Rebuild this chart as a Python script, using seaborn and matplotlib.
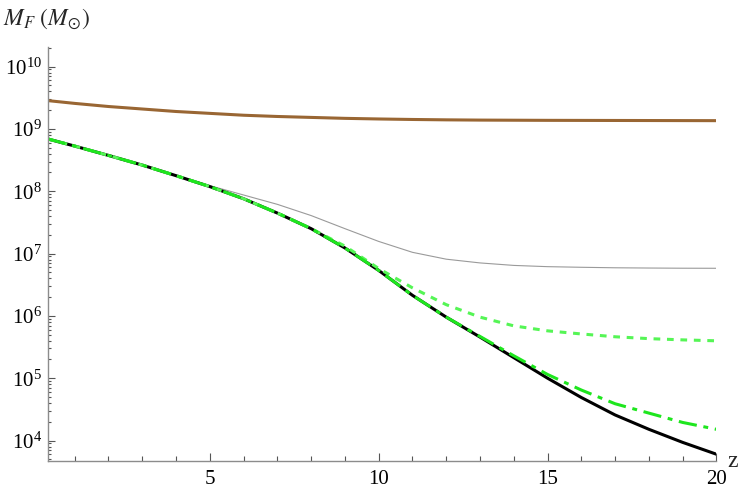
import numpy as np
import pandas as pd
import matplotlib
matplotlib.use("Agg")
import matplotlib.pyplot as plt
import matplotlib.ticker as mticker
import seaborn as sns

# ---- data (log10 of M_F in solar masses) ----
z = [0.2, 1, 2, 3, 4, 5, 6, 7, 8, 9, 10, 11, 12, 13, 14, 15, 16, 17, 18, 19, 20]
log_brown = [9.455, 9.41, 9.36, 9.32, 9.28, 9.25, 9.22, 9.20, 9.185, 9.17, 9.16,
             9.152, 9.146, 9.142, 9.14, 9.138, 9.137, 9.136, 9.135, 9.134, 9.133]
log_black = [8.84, 8.725, 8.575, 8.42, 8.25, 8.075, 7.88, 7.65, 7.40, 7.09, 6.73,
             6.33, 5.98, 5.66, 5.33, 5.00, 4.69, 4.41, 4.18, 3.97, 3.78]
log_grey = [8.84, 8.725, 8.575, 8.42, 8.255, 8.09, 7.94, 7.79, 7.61, 7.40, 7.195,
            7.02, 6.91, 6.85, 6.81, 6.79, 6.78, 6.772, 6.768, 6.765, 6.764]
log_dotted = [8.84, 8.725, 8.575, 8.42, 8.25, 8.075, 7.88, 7.65, 7.40, 7.12, 6.76,
              6.45, 6.18, 5.98, 5.84, 5.76, 5.71, 5.665, 5.635, 5.615, 5.60]
log_dashdot = [8.84, 8.725, 8.575, 8.42, 8.25, 8.075, 7.88, 7.65, 7.40, 7.09, 6.73,
               6.33, 5.98, 5.67, 5.36, 5.06, 4.81, 4.59, 4.44, 4.29, 4.18]
ytick_exponents = [4, 5, 6, 7, 8, 9, 10]
xtick_major = [5, 10, 15, 20]

series = {
    "brown": log_brown,
    "black": log_black,
    "grey": log_grey,
    "dotted": log_dotted,
    "dashdot": log_dashdot,
}

sns.set_theme(style="white")
plt.rcParams["font.family"] = ["Liberation Serif", "DejaVu Serif"]
plt.rcParams["mathtext.fontset"] = "stix"

fig = plt.figure(figsize=(7.47, 4.92), dpi=100)
ax = fig.add_axes([0.0636, 0.0636, 0.8955, 0.841])

styles = {
    "grey": dict(color="#9a9a9a", lw=0.8, ls="-"),
    "black": dict(color="black", lw=2.2, ls="-"),
    "brown": dict(color="#996633", lw=2.2, ls="-"),
    "dotted": dict(color="#55f555", lw=2.2, ls=(0, (2.2, 2.2))),
    "dashdot": dict(color="#1ee61e", lw=2.2, ls=(0, (6, 2.2, 1.6, 2.2))),
}
for name in ["grey", "black", "brown", "dotted", "dashdot"]:
    df = pd.DataFrame({"z": z, "M": 10.0 ** np.array(series[name])})
    st = styles[name]
    sns.lineplot(data=df, x="z", y="M", ax=ax, color=st["color"],
                 linewidth=st["lw"], linestyle=st["ls"], legend=False)

ax.set_yscale("log")
ax.set_xlim(0.195, 20.0)
ax.set_ylim(10 ** 3.676, 10 ** 10.316)

for s in ["top", "right"]:
    ax.spines[s].set_visible(False)
for s in ["left", "bottom"]:
    ax.spines[s].set_color("#8c8c8c")
    ax.spines[s].set_linewidth(1.0)

minor_x = [v for v in range(1, 20) if v not in xtick_major]
ax.xaxis.set_major_locator(mticker.FixedLocator(xtick_major))
ax.xaxis.set_minor_locator(mticker.FixedLocator(minor_x))
ax.xaxis.set_major_formatter(mticker.FixedFormatter([str(v) for v in xtick_major]))
ax.xaxis.set_minor_formatter(mticker.NullFormatter())

ymaj = [10.0 ** e for e in ytick_exponents]
ymin = [m * 10.0 ** e for e in range(3, 11) for m in range(2, 10)
        if 10 ** 3.676 < m * 10.0 ** e < 10 ** 10.316]
ax.yaxis.set_major_locator(mticker.FixedLocator(ymaj))
ax.yaxis.set_minor_locator(mticker.FixedLocator(ymin))
ax.yaxis.set_major_formatter(mticker.FixedFormatter(
    [r"$\mathregular{10^{%d}}$" % e for e in ytick_exponents]))
ax.yaxis.set_minor_formatter(mticker.NullFormatter())

ax.tick_params(axis="both", which="both", direction="in", color="#555555", width=0.8,
               labelsize=15, labelcolor="black", bottom=True, left=True)
ax.tick_params(axis="x", which="major", length=6, pad=7)
ax.tick_params(axis="x", which="minor", length=3.5)
ax.tick_params(axis="y", which="major", length=5, pad=4)
ax.tick_params(axis="y", which="minor", length=2.5)
ax.set_xlabel("")
ax.set_ylabel("")
ax.grid(False)

fig.text(0.004, 0.962, r"$M_F\ (M_{\odot})$", fontsize=17, ha="left", va="center")
fig.text(0.974, 0.063, "z", fontsize=17, ha="left", va="center")

fig.savefig("out.png", dpi=100)
